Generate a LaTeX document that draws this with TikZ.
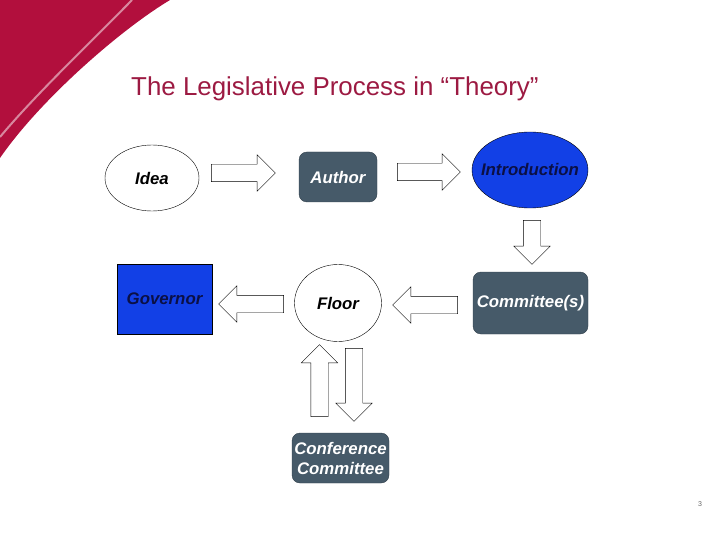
\documentclass[tikz,border=0pt]{standalone}
\usepackage{fontspec}
\setmainfont{Liberation Sans}
\usetikzlibrary{shapes.geometric,shapes.arrows}
\definecolor{crimson}{HTML}{B20F3D}
\definecolor{titlered}{HTML}{9C1A42}
\definecolor{slate}{HTML}{465A69}
\definecolor{bright}{HTML}{1240E6}
\definecolor{navy}{HTML}{0B1045}
\tikzset{
  stage/.style={font=\fontsize{16.8}{20}\selectfont\bfseries\itshape, align=center, inner sep=0pt},
  oval/.style={stage, ellipse, draw, thin},
  slatebox/.style={stage, rectangle, rounded corners=8pt, fill=slate, draw=slate!70!black, text=white},
  blockarrow/.style={single arrow, draw, thin, fill=white, inner xsep=0pt, inner ysep=8.5pt,
    single arrow head extend=9.5pt, single arrow tip angle=90},
}
\begin{document}
\begin{tikzpicture}[x=1pt,y=-1pt]
\useasboundingbox (0,0) rectangle (720,540);
\fill[crimson] (0,0) -- (170,0) .. controls (120,30) and (40,100) .. (0,158) -- cycle;
\draw[line width=2pt, crimson!50!white] (132,0) .. controls (95,38) and (35,95) .. (0,137);
\node[anchor=base west, inner sep=0pt, text=titlered, font=\fontsize{25.9}{30}\selectfont] (title) at (131,96) {The Legislative Process in “Theory”};

\node[oval, fill=white, minimum width=94pt, minimum height=66pt] (idea) at (152,178) {Idea};
\node[slatebox, minimum width=78pt, minimum height=50pt] (author) at (338,177) {Author};
\node[oval, fill=bright, minimum width=116pt, minimum height=76pt,
  label={[stage, text=navy]center:Introduction}] (intro) at (530,170) {};
\node[slatebox, minimum width=115pt, minimum height=62pt] (committee) at (530.5,303) {Committee(s)};
\node[oval, fill=white, minimum width=87pt, minimum height=77pt] (floor) at (338,303) {Floor};
\node[stage, rectangle, draw, thin, fill=bright, text=navy, minimum width=95pt, minimum height=70pt] (governor) at (164.5,299) {Governor};
\node[slatebox, minimum width=97pt, minimum height=50pt] (conference) at (340.5,458) {Conference\\Committee};

\node[blockarrow, minimum height=64pt] (ideaarrow) at (239,173) {};
\node[blockarrow, minimum height=63pt] (authorarrow) at (424.5,172) {};
\node[blockarrow, minimum height=44pt, rotate=-90] (introarrow) at (532,238) {};
\node[blockarrow, minimum height=65pt, rotate=180] (committeearrow) at (429.5,305) {};
\node[blockarrow, minimum height=65pt, rotate=180] (floorarrow) at (255.5,304) {};
\node[blockarrow, minimum height=72pt, rotate=90] (uparrow) at (319.5,385) {};
\node[blockarrow, minimum height=73pt, rotate=-90] (downarrow) at (354,380.5) {};

\node[text=black!60, font=\fontsize{7}{8}\selectfont] (page) at (700,504) {3};
\end{tikzpicture}
\end{document}
